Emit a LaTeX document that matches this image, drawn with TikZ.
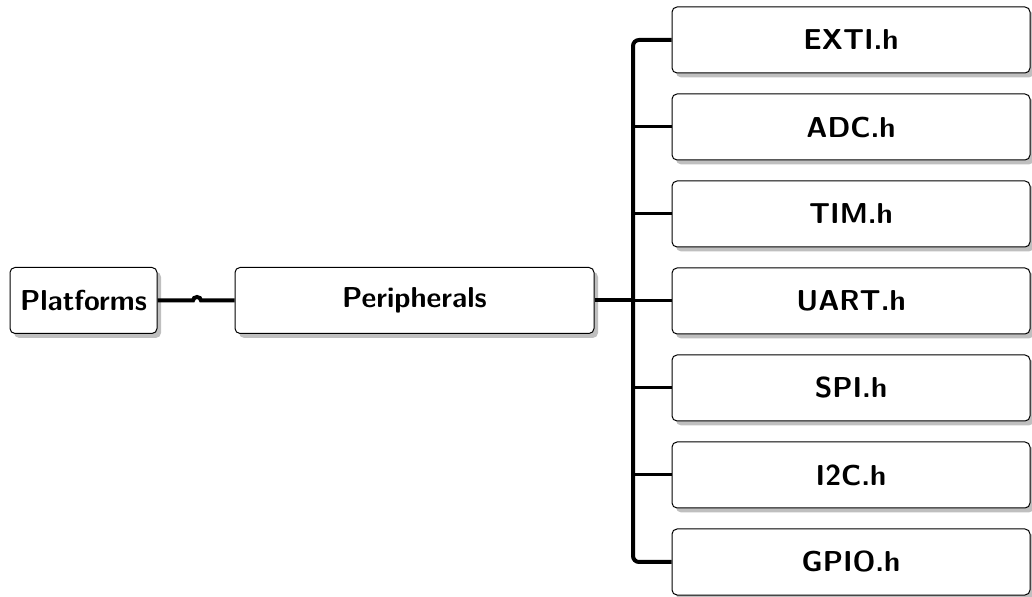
\documentclass[tikz,border=0pt]{standalone}
\usepackage{fontspec}
\usetikzlibrary{shadows,calc}
\begin{document}
\begin{tikzpicture}[x=0.5pt,y=-0.5pt,
  box/.style={draw=black, line width=0.5pt, fill=white, rounded corners=2.5pt,
    minimum height=33pt, inner sep=0pt,
    font=\fontsize{14.4}{16}\selectfont\sffamily\bfseries,
    drop shadow={shadow xshift=2pt, shadow yshift=-2.2pt, fill=black!25, opacity=1}},
  leafbox/.style={box, minimum width=179pt},
  link/.style={draw=black, line width=2pt},
  branch/.style={draw=black, line width=1.5pt}]
\useasboundingbox (0,0) rectangle (1032,597);

% root and middle level
\node[box, minimum width=73.5pt] (plat) at (83.5,300.5) {Platforms};
\node[box, minimum width=179.5pt] (per) at (414.5,300.5) {Peripherals};

% header files
\node[leafbox] (exti) at (851,40)  {EXTI.h};
\node[leafbox] (adc)  at (851,127) {ADC.h};
\node[leafbox] (tim)  at (851,214) {TIM.h};
\node[leafbox] (uart) at (851,301) {UART.h};
\node[leafbox] (spi)  at (851,388) {SPI.h};
\node[leafbox] (iic)  at (851,475) {I2C.h};
\node[leafbox] (gpio) at (851,562) {GPIO.h};

% junction on the vertical trunk
\coordinate (j) at (633,300.5);
\coordinate (hop) at (197,300.5);

% Platforms -> Peripherals, with a small line hop
\draw[link] (plat.east) -- ($(hop)+(-4,0)$)
  arc[start angle=180, end angle=360, x radius=4, y radius=3.5] -- (per.west);

% Peripherals -> trunk
\draw[link] (per.east) -- (j);

% trunk with the two outer branches
\draw[link, rounded corners=3pt] (exti.west) -| (j) |- (gpio.west);

% inner branches
\foreach \n in {adc,tim,uart,spi,iic}
  \draw[branch] (\n.west) -- (\n.west -| j);
\end{tikzpicture}
\end{document}
